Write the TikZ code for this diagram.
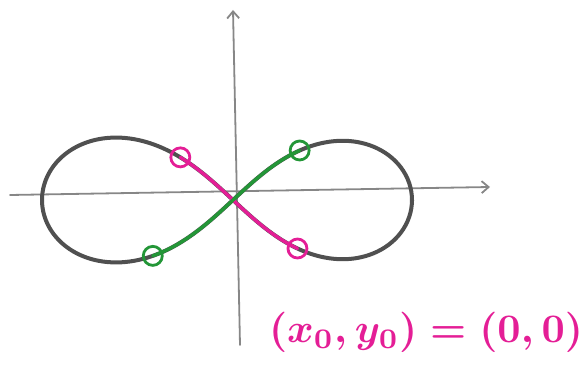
\documentclass[tikz,border=0pt]{standalone}
\usepackage{xcolor}
\usetikzlibrary{arrows.meta}
\definecolor{pencil}{RGB}{80,80,80}
\definecolor{lightpencil}{RGB}{135,135,135}
\definecolor{pinkpen}{RGB}{228,30,150}
\definecolor{greenpen}{RGB}{35,150,55}
\tikzset{
  axis/.style={lightpencil, line width=1.8pt, line cap=round, -{Straight Barb[length=7pt,width=12pt]}},
  curve/.style={pencil, line width=4pt},
  pinkline/.style={pinkpen, line width=3.4pt, line cap=round},
  greenline/.style={greenpen, line width=3.4pt, line cap=round},
  ring/.style={circle, draw, line width=2.8pt, minimum size=19pt, inner sep=0pt},
  declare function={lema(\t)=185-6*cos(\t);
    lemx(\t)=lema(\t)*cos(\t)/(1+sin(\t)*sin(\t));
    lemy(\t)=0.93*lema(\t)*sin(\t)*cos(\t)/(1+sin(\t)*sin(\t));}
}
\begin{document}
\begin{tikzpicture}[x=1pt,y=1pt]
  \useasboundingbox (0,0) rectangle (582,367);
  \coordinate (o) at (233,167);
  \coordinate (xstart) at (10,172);
  \coordinate (xend) at (490,180);
  \coordinate (ystart) at (240,22);
  \coordinate (yend) at (233,357);
  \draw[axis] (xstart) -- (xend);
  \draw[axis] (ystart) -- (yend);
  \begin{scope}[shift={(o)}]
    \draw[curve] plot[domain=0:360, samples=240, smooth] ({lemx(\x)},{lemy(\x)}) -- cycle;
    \draw[pinkline] plot[domain=240.5:306, samples=40, smooth] ({lemx(\x)},{lemy(\x)});
    \draw[greenline] plot[domain=53:131.5, samples=40, smooth] ({lemx(\x)},{lemy(\x)});
    \node[ring, pinkpen] (pinkstart) at ({lemx(240.5)},{lemy(240.5)}) {};
    \node[ring, pinkpen] (pinkend) at ({lemx(306)},{lemy(306)}) {};
    \node[ring, greenpen] (greenstart) at ({lemx(53)},{lemy(53)}) {};
    \node[ring, greenpen] (greenend) at ({lemx(131.5)},{lemy(131.5)}) {};
  \end{scope}
  \node[pinkpen, scale=4.05, font=\boldmath] (eq) at (426,35) {$(x_0,y_0) = (0,0)$};
\end{tikzpicture}
\end{document}
